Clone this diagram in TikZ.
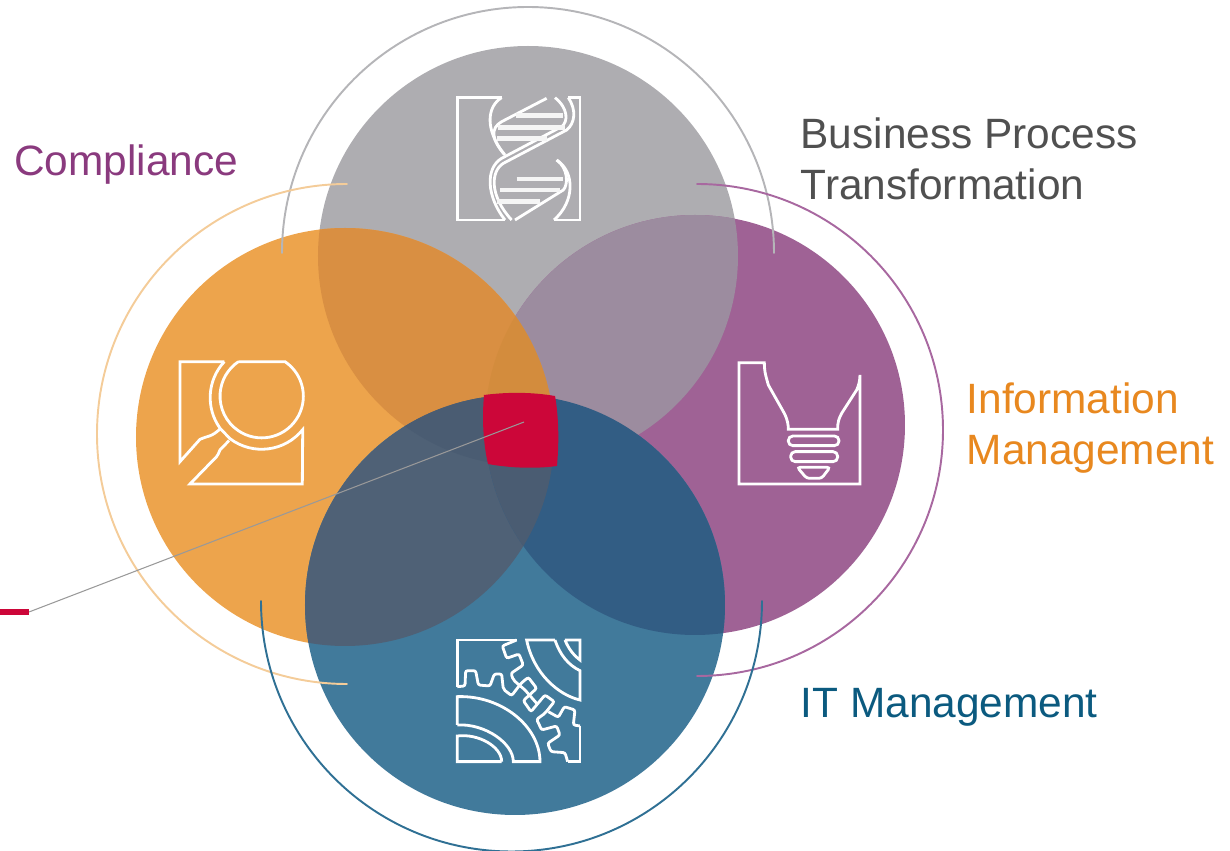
\documentclass[tikz,border=0pt]{standalone}
\usepackage{fontspec}
\setmainfont{Liberation Sans}
\usetikzlibrary{positioning}
\definecolor{grayDisk}{HTML}{AEADB1}
\definecolor{orangeDisk}{HTML}{EDA44C}
\definecolor{purpleDisk}{HTML}{9F6295}
\definecolor{blueDisk}{HTML}{417A9B}
\definecolor{grayOrange}{HTML}{D98F42}
\definecolor{grayPurple}{HTML}{9C8C9F}
\definecolor{orangePurple}{HTML}{D38C3D}
\definecolor{orangeBlue}{HTML}{4F6176}
\definecolor{purpleBlue}{HTML}{325D84}
\definecolor{orangeBlueDeep}{HTML}{4A5C72}
\definecolor{coreRed}{HTML}{CC0639}
\definecolor{grayRing}{HTML}{B5B5B8}
\definecolor{orangeRing}{HTML}{F4CC99}
\definecolor{purpleRing}{HTML}{A868A0}
\definecolor{blueRing}{HTML}{2F7094}
\definecolor{textPurple}{HTML}{8A3A7E}
\definecolor{textGray}{HTML}{505050}
\definecolor{textOrange}{HTML}{E8881F}
\definecolor{textBlue}{HTML}{0B5A7F}
\newcommand\diskG{(528,256) circle (210)}
\newcommand\diskO{(345,437) circle (209)}
\newcommand\diskP{(695,425) circle (210)}
\newcommand\diskB{(515,605) circle (210)}
\tikzset{
  iconline/.style={draw=white,line width=0.8pt},
  ringline/.style={line width=0.55pt,line cap=round},
  rung/.style={draw=white!92!gray,line width=1.4pt},
  bigtext/.style={inner sep=0pt,font=\fontsize{12.07}{14.51}\selectfont,align=left,anchor=north west}
}
\begin{document}
\begin{tikzpicture}[x=0.1mm,y=-0.1mm]
\useasboundingbox(0,0)rectangle(1230,851);
% discs
\fill[grayDisk]\diskG;
\fill[purpleDisk]\diskP;
\fill[orangeDisk]\diskO;
\fill[blueDisk]\diskB;
% overlaps
\begin{scope}\clip\diskG;\fill[grayPurple]\diskP;\fill[grayOrange]\diskO;\end{scope}
\begin{scope}\clip\diskO;\fill[orangePurple]\diskP;\fill[orangeBlue]\diskB;\end{scope}
\begin{scope}\clip\diskP;\fill[purpleBlue]\diskB;\end{scope}
\begin{scope}\clip\diskO;\clip\diskP;\fill[orangeBlueDeep]\diskB;\end{scope}
\begin{scope}\clip\diskO;\clip\diskG;\fill[orangeBlueDeep]\diskB;\end{scope}
\fill[coreRed](484,395)..controls(507,392)and(532,392)..(555,396)
  ..controls(559,418)and(559,444)..(557,466)
  ..controls(535,469)and(510,468)..(488,464)
  ..controls(483,442)and(482,418)..(484,395)--cycle;
% rings
\draw[ringline,grayRing](282,253)arc(180:360:246);
\draw[ringline,orangeRing](347,184)arc(270:90:250);
\draw[ringline,purpleRing](697,184)arc(270:450:246);
\draw[ringline,blueRing](261,601)arc(180:0:250.5);
% leader
\coordinate(core)at(524,422);
\coordinate(tick)at(29,612);
\coordinate(edge)at(0,612);
\draw[line width=0.3pt,gray!80](core)--(tick);
\draw[line width=1.6pt,coreRed](tick)--(edge);
% dna
\begin{scope}[shift={(440,80)},scale=0.3333]
\draw[iconline](185,53)--(52,53)--(52,420)--(195,420);
\draw[iconline](385,53)--(420,53)--(420,420)--(342,420);
\draw[iconline](185,53)..controls(140,80)and(135,150)..(192,222);
\draw[iconline](320,55)--(185,125)..controls(150,145)and(155,180)..(195,225);
\draw[iconline](345,53)..controls(385,85)and(385,125)..(365,140)--(185,235)..controls(135,265)and(140,350)..(195,420);
\draw[iconline](385,53)..controls(410,90)and(405,130)..(380,150)--(190,250)..controls(150,275)and(150,350)..(215,420);
\draw[iconline](350,240)..controls(385,265)and(385,315)..(370,330)--(225,420);
\draw[iconline](350,240)..controls(405,275)and(405,365)..(342,420);
\draw[rung](228,107)--(370,107);
\draw[rung](175,142)--(375,142);
\draw[rung](172,175)--(320,175);
\draw[rung](230,297)--(370,297);
\draw[rung](180,330)--(360,330);
\draw[rung](170,365)--(300,365);
\end{scope}
% magnifier
\begin{scope}[shift={(165,350)},scale=0.3333]
\draw[iconline](178,35)--(45,35)--(45,335)--(105,268)..controls(125,258)and(140,262)..(166,236);
\draw[iconline](178,35)arc(223:144:158)--(195,266)arc(127:38.8:158)--(412,402)--(75,402)--(145,330)..controls(150,325)and(158,320)..(165,300)--(192,272);
\draw[iconline](220,35)--(360,35)arc(304:596:125)--cycle;
\end{scope}
% bulb
\begin{scope}[shift={(725,350)},scale=0.3333]
\draw[iconline](405,75)--(405,402)--(42,402)--(42,38)--(118,38)
  ..controls(118,70)and(125,85)..(130,105)--(178,190)..controls(188,210)and(190,225)..(190,238)
  --(338,238)..controls(338,215)and(342,205)..(350,190)--(395,120)..controls(402,105)and(405,90)..(405,75);
\draw[iconline,rounded corners=1.3pt](190,258)rectangle(342,287);
\draw[iconline,rounded corners=1.3pt](197,305)rectangle(338,335);
\draw[iconline,rounded corners=0.8pt](217,352)--(315,352)--(290,385)--(245,385)--cycle;
\end{scope}
% gears
\begin{scope}[shift={(445,630)},scale=0.3333]
\draw[iconline](215,30)--(37,30)--(37,170);
\draw[iconline,rounded corners=0.6pt](37,170)--(60,168)--(62,122)--(92,122)--(100,165)--(135,168)--(148,132)--(170,132)--(175,178)--(200,197)--(228,160)
  --(250,142)--(275,175)--(235,212)--(258,245)--(300,195)--(328,215)--(300,250)--(275,268)--(290,300)--(335,288)--(345,315)--(308,340)--(318,365)--(360,368)--(368,395);
\draw[iconline,rounded corners=0.6pt](215,30)--(172,48)--(185,85)--(222,72)--(235,105)--(198,130)--(205,150)--(240,180)--(275,220);
\draw[iconline,rounded corners=0.6pt](310,245)--(340,262)--(358,230)--(390,240)--(385,285)--(405,288);
\draw[iconline](368,395)--(405,395)--(405,288);
\draw[iconline](330,30)--(245,30)..controls(265,130)and(340,195)..(405,210)--(405,122)..controls(370,105)and(345,75)..(330,30);
\draw[iconline](360,30)--(405,30)--(405,90)..controls(385,75)and(370,55)..(360,30);
\draw[iconline](37,285)--(37,200)..controls(170,195)and(285,290)..(285,395)--(205,395)..controls(205,340)and(120,280)..(37,285);
\draw[iconline](170,395)--(37,395)--(37,318)..controls(100,310)and(170,350)..(170,395);
\end{scope}
% labels
\node[bigtext,text=textPurple](compliance)at(13.5,144){Compliance};
\node[bigtext,text=textGray](business)at(800,117){Business Process\\Transformation};
\node[bigtext,text=textOrange](information)at(966,382){Information\\Management};
\node[bigtext,text=textBlue](itmgmt)at(800,688){IT Management};
\end{tikzpicture}
\end{document}
